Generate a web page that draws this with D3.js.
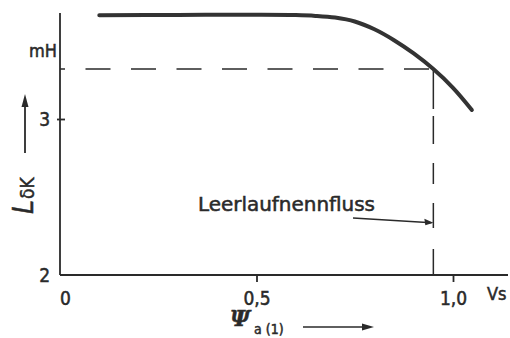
<!DOCTYPE html>
<html>
<head>
<meta charset="utf-8">
<script src="https://cdn.jsdelivr.net/npm/d3@7"></script>
<style>
  html, body { margin: 0; padding: 0; background: #fff; }
  svg { display: block; }
  text { font-family: "DejaVu Sans Condensed", "DejaVu Sans", sans-serif; fill: #2a2a2a;
         stroke: #2a2a2a; stroke-width: 0.5px; }
</style>
</head>
<body>
<svg id="chart" width="510" height="338"></svg>
<script>
// Inductance L_δK over fundamental air-gap flux linkage Ψ_a(1)
const fluxVs       = [0.10, 0.30, 0.50, 0.60, 0.65, 0.70, 0.75, 0.80, 0.85, 0.90, 0.95, 1.0, 1.048];
const inductanceMH = [3.665, 3.667, 3.668, 3.666, 3.661, 3.650, 3.625, 3.575, 3.505, 3.420, 3.32, 3.20, 3.058];

const xTickValues = [0, 0.5, 1.0];
const xTickLabels = ["0", "0,5", "1,0"];
const yTickValues = [2, 3];
const yTickLabels = ["2", "3"];

// rated no-load flux and the inductance read off there
const ratedFlux = 0.95;
const ratedL = 3.32;
const ratedLabel = "Leerlaufnennfluss";

const svg = d3.select("#chart");
const ink = "#2a2a2a";

const x = d3.scaleLinear().domain([0, 1]).range([60, 453]);
const y = d3.scaleLinear().domain([2, 3]).range([275, 119]);

const xEnd = 508, yTop = 13;

// axis lines
svg.append("line").attr("x1", x(0)).attr("x2", xEnd).attr("y1", y(2)).attr("y2", y(2))
  .attr("stroke", ink).attr("stroke-width", 1.8);
svg.append("line").attr("x1", x(0)).attr("x2", x(0)).attr("y1", y(2)).attr("y2", yTop)
  .attr("stroke", ink).attr("stroke-width", 1.8);

// x ticks
const gx = svg.append("g").attr("transform", `translate(0,${y(2)})`)
  .call(d3.axisBottom(x).tickValues(xTickValues)
    .tickFormat((d, i) => xTickLabels[i]).tickSize(7).tickPadding(10).tickSizeOuter(0));
gx.select(".domain").remove();
gx.selectAll(".tick line").attr("stroke", ink).attr("stroke-width", 1.8)
  .filter(d => d === 0).remove();
gx.selectAll(".tick text").attr("font-size", 19).attr("fill", ink)
  .style("font-family", "DejaVu Sans Condensed, DejaVu Sans, sans-serif")
  .attr("dx", d => d === 0 ? 5 : 0);

svg.append("text").attr("x", 487).attr("y", 300).attr("font-size", 18).text("Vs");

// y ticks
const gy = svg.append("g").attr("transform", `translate(${x(0)},0)`)
  .call(d3.axisLeft(y).tickValues(yTickValues)
    .tickFormat((d, i) => yTickLabels[i]).tickSize(0).tickPadding(10).tickSizeOuter(0));
gy.select(".domain").remove();
gy.selectAll(".tick text").attr("font-size", 19).attr("fill", ink)
  .style("font-family", "DejaVu Sans Condensed, DejaVu Sans, sans-serif");
gy.selectAll(".tick").filter(d => d === 3).append("line")
  .attr("x1", -3).attr("x2", 5).attr("stroke", ink).attr("stroke-width", 1.8);

svg.append("text").attr("x", 57).attr("y", 57).attr("text-anchor", "end")
  .attr("font-size", 18).text("mH");

// dashed guide lines at the rated flux
svg.append("line")
  .attr("x1", x(0)).attr("x2", x(ratedFlux)).attr("y1", y(ratedL)).attr("y2", y(ratedL))
  .attr("stroke", ink).attr("stroke-width", 1.5)
  .attr("stroke-dasharray", "25 20.5").attr("stroke-dashoffset", 20);
svg.append("line")
  .attr("x1", x(ratedFlux)).attr("x2", x(ratedFlux)).attr("y1", y(ratedL)).attr("y2", y(2))
  .attr("stroke", ink).attr("stroke-width", 1.5)
  .attr("stroke-dasharray", "40 7 28 19 21 19 25 21 27");

// curve
const pts = fluxVs.map((v, i) => [v, inductanceMH[i]]);
svg.append("path").datum(pts)
  .attr("d", d3.line().x(d => x(d[0])).y(d => y(d[1])).curve(d3.curveCatmullRom.alpha(0.5)))
  .attr("fill", "none").attr("stroke", "#333").attr("stroke-width", 4)
  .attr("stroke-linecap", "round");

// annotation with pointer to the rated-flux line
const tipX = x(ratedFlux), tipY = y(2.335);
svg.append("text").attr("x", 198).attr("y", 211).attr("font-size", 20)
  .attr("textLength", 177).attr("lengthAdjust", "spacingAndGlyphs").text(ratedLabel);
svg.append("line").attr("x1", 353).attr("y1", 218).attr("x2", tipX - 2).attr("y2", tipY)
  .attr("stroke", ink).attr("stroke-width", 1.6);
svg.append("path")
  .attr("d", `M${tipX},${tipY} L${tipX - 9},${tipY - 4} L${tipX - 8},${tipY + 2.5} Z`)
  .attr("fill", ink);

// y-axis title, rotated, with arrow
const yt = svg.append("text").attr("transform", "translate(33,214) rotate(-90)");
yt.append("tspan").attr("font-size", 28).attr("font-style", "italic").text("L");
yt.append("tspan").attr("font-size", 19).attr("dx", 1).attr("dy", 1).text("δK");
svg.append("line").attr("x1", 25).attr("x2", 25).attr("y1", 153).attr("y2", 104)
  .attr("stroke", ink).attr("stroke-width", 1.8);
svg.append("path").attr("d", "M25,94 L21.5,107 L28.5,107 Z").attr("fill", ink);

// x-axis title with arrow
const xt = svg.append("text").attr("x", 230).attr("y", 326);
xt.append("tspan").attr("font-size", 22).attr("font-style", "italic").attr("font-weight", "bold")
  .style("font-family", "DejaVu Serif, serif").text("Ψ");
xt.append("tspan").attr("font-size", 14).attr("dx", 4).attr("dy", 8).text("a (1)");
svg.append("line").attr("x1", 303).attr("x2", 364).attr("y1", 327).attr("y2", 327)
  .attr("stroke", ink).attr("stroke-width", 1.6);
svg.append("path").attr("d", "M374,327 L362,323.5 L362,330.5 Z").attr("fill", ink);
</script>
</body>
</html>
